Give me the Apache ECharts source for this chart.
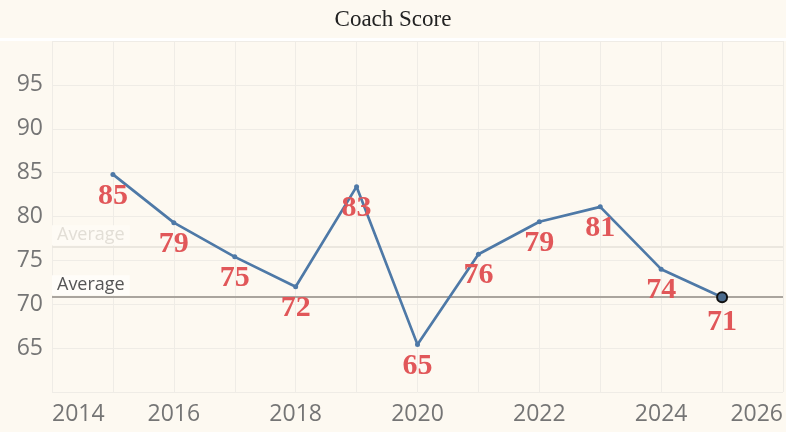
<!DOCTYPE html>
<html>
<head>
<meta charset="utf-8">
<script src="https://cdn.jsdelivr.net/npm/echarts@6/dist/echarts.min.js"></script>
<style>
html,body{margin:0;padding:0;background:#fdf9f1;}
#c{width:786px;height:432px;}
</style>
</head>
<body>
<div id="c"></div>
<script>
const years = [2015, 2016, 2017, 2018, 2019, 2020, 2021, 2022, 2023, 2024, 2025];
const scores = [84.8, 79.3, 75.4, 72.0, 83.4, 65.4, 75.7, 79.4, 81.1, 74.0, 70.8];
const avgAll = 76.5;
const avgSelected = 70.8;
const xTicks = [2014, 2016, 2018, 2020, 2022, 2024, 2026];
const yTicks = [65, 70, 75, 80, 85, 90, 95];

const chart = echarts.init(document.getElementById('c'));
const lastIdx = years.length - 1;
const data = years.map((y, i) => {
  const d = { value: [y, scores[i]] };
  if (i === lastIdx) {
    d.symbolSize = 10;
    d.itemStyle = { color: '#4a6a8c', borderColor: '#111', borderWidth: 2 };
  }
  return d;
});

chart.setOption({
  backgroundColor: '#fdf9f1',
  animation: false,
  title: {
    text: 'Coach Score',
    left: 'center',
    top: 3,
    textStyle: { fontFamily: 'Liberation Serif', fontSize: 23, fontWeight: 'normal', color: '#222' }
  },
  graphic: [{
    type: 'rect', shape: { x: 0, y: 38, width: 786, height: 3 },
    style: { fill: '#ffffff' }, silent: true, z: 0
  }],
  grid: { left: 52, right: 1, top: 41, bottom: 40 },
  xAxis: {
    type: 'value', min: 2014, max: 2026, interval: 2,
    axisLine: { show: false }, axisTick: { show: false },
    minorTick: { show: false, splitNumber: 2 },
    splitLine: { show: true, lineStyle: { color: '#efece6', width: 1 } },
    minorSplitLine: { show: true, lineStyle: { color: '#efece6', width: 1 } },
    axisLabel: {
      margin: 11, fontFamily: 'Open Sans', fontSize: 23, color: '#757575',
      alignMinLabel: 'left', alignMaxLabel: 'right',
      formatter: v => xTicks.includes(v) ? String(v) : ''
    }
  },
  yAxis: {
    type: 'value', min: 60, max: 100, interval: 5,
    axisLine: { show: false }, axisTick: { show: false },
    splitLine: { show: true, lineStyle: { color: '#efece6', width: 1 } },
    axisLabel: {
      margin: 9, fontFamily: 'Open Sans', fontSize: 23, color: '#757575',
      formatter: v => yTicks.includes(v) ? String(v) : ''
    }
  },
  series: [{
    type: 'line',
    data: data,
    symbol: 'circle',
    symbolSize: 5,
    itemStyle: { color: '#4e79a7' },
    lineStyle: { color: '#4e79a7', width: 2.7 },
    label: {
      show: true, position: 'bottom', distance: 4,
      fontFamily: 'Liberation Serif', fontWeight: 'bold', fontSize: 30, color: '#e15759',
      formatter: p => String(Math.round(p.value[1]))
    },
    z: 5,
    markLine: {
      silent: true, symbol: 'none',
      data: [
        {
          yAxis: avgAll,
          lineStyle: { color: '#ebe7df', width: 2, type: 'solid' },
          label: {
            show: true, position: 'insideStartTop', formatter: 'Average', distance: [0, 2],
            fontFamily: 'Open Sans', fontSize: 18, color: '#e2ded6',
            backgroundColor: '#fefbf5', padding: [1, 5, 1, 5]
          }
        },
        {
          yAxis: avgSelected,
          lineStyle: { color: '#aaa59e', width: 2, type: 'solid' },
          label: {
            show: true, position: 'insideStartTop', formatter: 'Average', distance: [0, 2],
            fontFamily: 'Open Sans', fontSize: 18, color: '#555',
            backgroundColor: '#fffdf9', padding: [1, 5, 1, 5]
          }
        }
      ]
    }
  }]
});
</script>
</body>
</html>
